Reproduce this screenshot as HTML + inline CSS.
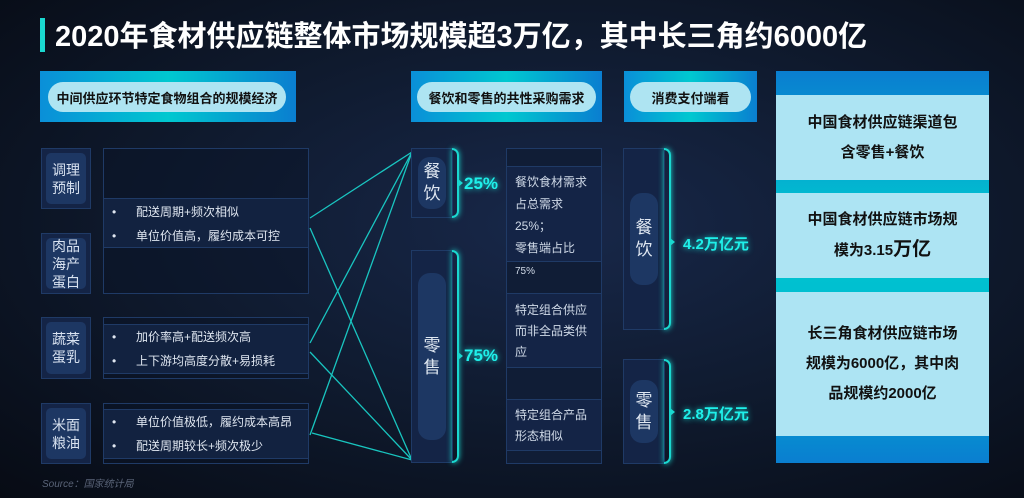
<!DOCTYPE html>
<html><head><meta charset="utf-8"><style>
*{margin:0;padding:0;box-sizing:border-box}
body{width:1024px;height:498px;overflow:hidden;background:radial-gradient(ellipse at 55% 45%,#18284a 0%,#0f1a2e 50%,#070b14 100%);font-family:"Liberation Sans","Noto Sans CJK SC",sans-serif;position:relative;color:#dfe6f0}
.a{position:absolute}
.title{left:55px;top:17px;font-size:29px;font-weight:bold;color:#fff;white-space:nowrap;line-height:40px}
.hdr{background:linear-gradient(90deg,#0a8fd8,#00c8d0 50%,#0a7ed0);}
.pill{position:absolute;background:#aee4f2;border-radius:15px;color:#111;font-weight:bold;font-size:13px;display:flex;align-items:center;justify-content:center}
.cat{background:#142446;border:1px solid #1f3a66;}
.cat div{position:absolute;left:4px;right:4px;top:4px;bottom:4px;background:#1d3763;border-radius:5px;display:flex;align-items:center;justify-content:center;text-align:center;font-size:14px;line-height:18px;color:#d8e2f0}
.box{border:1px solid #1f3a66;background:rgba(10,20,40,.5)}
.row{position:absolute;left:0;right:0;border-top:1px solid #1f3a66;border-bottom:1px solid #1f3a66;background:#122240;font-size:12px;line-height:24px;padding-left:8px}
.row span{display:inline-block;width:24px}
.pbox{background:#142446;border:1px solid #1f3a66}
.pbox div{position:absolute;left:6px;right:6px;background:#1d3763;border-radius:12px;display:flex;align-items:center;justify-content:center;font-size:17px;line-height:22px;text-align:center;color:#e0e8f2}
.brk{border:2px solid #1ad8d0;border-left:none;border-radius:0 8px 8px 0;box-shadow:0 0 6px #1ad8d0}
.tk{position:absolute;width:0;height:0;border-top:4px solid transparent;border-bottom:4px solid transparent;border-left:5px solid #1ad8d0}
.val{color:#1ff0ea;font-weight:bold;text-shadow:0 0 6px #1ad8d0}
.info{font-size:12px;line-height:21px;padding:4px 8px;color:#d0dae8}
.lb{background:#ade4f3;color:#111;font-weight:bold;font-size:15px;line-height:30px;text-align:center;display:flex;align-items:center;justify-content:center}
</style></head><body>
<div class="a" style="left:40px;top:18px;width:5px;height:34px;background:#1ad8d0"></div>
<div class="a title">2020年食材供应链整体市场规模超3万亿，其中长三角约6000亿</div>

<div class="a hdr" style="left:40px;top:71px;width:256px;height:51px"><div class="pill" style="left:8px;top:11px;width:238px;height:30px">中间供应环节特定食物组合的规模经济</div></div>
<div class="a hdr" style="left:411px;top:71px;width:191px;height:51px"><div class="pill" style="left:6px;top:11px;width:179px;height:30px">餐饮和零售的共性采购需求</div></div>
<div class="a hdr" style="left:624px;top:71px;width:133px;height:51px"><div class="pill" style="left:6px;top:11px;width:121px;height:30px">消费支付端看</div></div>

<div class="a cat" style="left:41px;top:148px;width:50px;height:61px"><div>调理<br>预制</div></div>
<div class="a cat" style="left:41px;top:233px;width:50px;height:61px"><div>肉品<br>海产<br>蛋白</div></div>
<div class="a cat" style="left:41px;top:317px;width:50px;height:62px"><div>蔬菜<br>蛋乳</div></div>
<div class="a cat" style="left:41px;top:403px;width:50px;height:61px"><div>米面<br>粮油</div></div>

<div class="a box" style="left:103px;top:148px;width:206px;height:146px"><div class="row" style="top:49px;height:50px;padding-top:1px"><span>•</span>配送周期+频次相似<br><span>•</span>单位价值高，履约成本可控</div></div>
<div class="a box" style="left:103px;top:317px;width:206px;height:62px"><div class="row" style="top:6px;height:50px"><span>•</span>加价率高+配送频次高<br><span>•</span>上下游均高度分散+易损耗</div></div>
<div class="a box" style="left:103px;top:403px;width:206px;height:61px"><div class="row" style="top:5px;height:50px"><span>•</span>单位价值极低，履约成本高昂<br><span>•</span>配送周期较长+频次极少</div></div>

<svg class="a" style="left:0;top:0" width="1024" height="498"><g stroke="#1ad8d0" stroke-width="1.3" fill="none" opacity=".9">
<line x1="412" y1="152" x2="310" y2="218"/><line x1="412" y1="152" x2="310" y2="343"/><line x1="412" y1="152" x2="310" y2="435"/>
<line x1="412" y1="460" x2="310" y2="228"/><line x1="412" y1="460" x2="310" y2="352"/><line x1="412" y1="460" x2="312" y2="433"/>
</g></svg>

<div class="a pbox" style="left:411px;top:148px;width:42px;height:70px"><div style="top:8px;bottom:8px">餐<br>饮</div></div>
<div class="a brk" style="left:452px;top:148px;width:7px;height:70px"></div>
<div class="tk" style="left:458px;top:179px"></div>
<div class="a val" style="left:464px;top:174px;font-size:17px">25%</div>
<div class="a pbox" style="left:411px;top:250px;width:42px;height:213px"><div style="top:22px;bottom:22px">零<br>售</div></div>
<div class="a brk" style="left:452px;top:250px;width:7px;height:213px"></div>
<div class="tk" style="left:458px;top:352px"></div>
<div class="a val" style="left:464px;top:346px;font-size:17px">75%</div>

<div class="a box" style="left:506px;top:148px;width:96px;height:316px;background:#101d36">
<div class="a info" style="left:0;right:0;top:17px;height:96px;background:#142446;border-top:1px solid #1f3a66;border-bottom:1px solid #1f3a66;padding-top:4px;line-height:22px">餐饮食材需求<br>占总需求25%；<br>零售端占比<br><span style="font-size:10px">75%</span></div>
<div class="a info" style="left:0;right:0;top:144px;height:75px;background:#142446;border-top:1px solid #1f3a66;border-bottom:1px solid #1f3a66;padding-top:6px">特定组合供应<br>而非全品类供<br>应</div>
<div class="a info" style="left:0;right:0;top:250px;height:52px;background:#142446;border-top:1px solid #1f3a66;border-bottom:1px solid #1f3a66;padding-top:5px">特定组合产品<br>形态相似</div>
</div>

<div class="a pbox" style="left:623px;top:148px;width:42px;height:182px"><div style="top:44px;bottom:44px">餐<br>饮</div></div>
<div class="a brk" style="left:664px;top:148px;width:7px;height:182px"></div>
<div class="tk" style="left:670px;top:238px"></div>
<div class="a val" style="left:683px;top:233px;font-size:15px">4.2万亿元</div>
<div class="a pbox" style="left:623px;top:359px;width:42px;height:105px"><div style="top:20px;bottom:20px">零<br>售</div></div>
<div class="a brk" style="left:664px;top:359px;width:7px;height:105px"></div>
<div class="tk" style="left:670px;top:408px"></div>
<div class="a val" style="left:683px;top:403px;font-size:15px">2.8万亿元</div>

<div class="a" style="left:776px;top:71px;width:213px;height:392px;background:linear-gradient(180deg,#0a7ed0,#00c8d0 40%,#00b8d0 70%,#0a7ed0)">
<div class="a lb" style="left:0;right:0;top:24px;height:85px">中国食材供应链渠道包<br>含零售+餐饮</div>
<div class="a lb" style="left:0;right:0;top:122px;height:85px"><div>中国食材供应链市场规<br>模为3.15<span style="font-size:19px">万亿</span></div></div>
<div class="a lb" style="left:0;right:0;top:221px;height:144px">长三角食材供应链市场<br>规模为6000亿，其中肉<br>品规模约2000亿</div>
</div>

<div class="a" style="left:42px;top:475px;font-size:10px;font-style:italic;color:#5a6478">Source：国家统计局</div>
</body></html>
